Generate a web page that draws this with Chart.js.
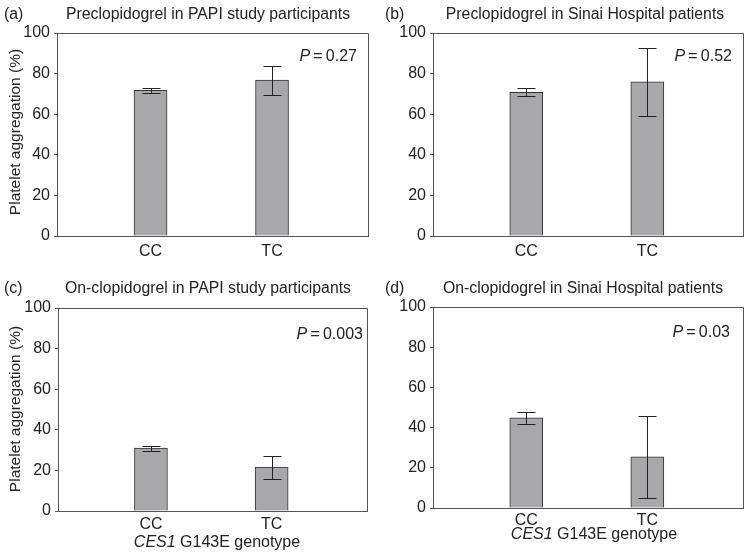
<!DOCTYPE html>
<html>
<head>
<meta charset="utf-8">
<script src="https://cdn.jsdelivr.net/npm/chart.js@4/dist/chart.umd.min.js"></script>
<style>
  html, body { margin:0; padding:0; background:#fff; }
  #wrap { position:relative; width:749px; height:556px; }
  #wrap canvas { position:absolute; }
</style>
</head>
<body>
<div id="wrap">
  <canvas id="panelA" width="375" height="270" style="left:0;top:0"></canvas>
  <canvas id="panelB" width="374" height="270" style="left:375px;top:0"></canvas>
  <canvas id="panelC" width="375" height="286" style="left:0;top:270px"></canvas>
  <canvas id="panelD" width="374" height="286" style="left:375px;top:270px"></canvas>
</div>
<script>
// ─── data ───────────────────────────────────────────────────────────────────
const genotypes = ['CC', 'TC'];
const yTicks = [0, 20, 40, 60, 80, 100];

const panelLetters = ['(a)', '(b)', '(c)', '(d)'];
const panelTitles = [
  'Preclopidogrel in PAPI study participants',
  'Preclopidogrel in Sinai Hospital patients',
  'On-clopidogrel in PAPI study participants',
  'On-clopidogrel in Sinai Hospital patients'
];
const pValues = ['0.27', '0.52', '0.003', '0.03'];

const preclopPapiMean  = [71.7, 76.8];
const preclopPapiErr   = [1.1, 7.1];
const preclopSinaiMean = [70.8, 75.9];
const preclopSinaiErr  = [2.0, 16.8];
const onclopPapiMean   = [31.0, 21.6];
const onclopPapiErr    = [1.2, 5.6];
const onclopSinaiMean  = [44.8, 25.4];
const onclopSinaiErr   = [2.9, 20.3];

const yAxisTitle = 'Platelet aggregation (%)';
const xAxisTitleItalic = 'CES1';
const xAxisTitleRest = ' G143E genotype';

// ─── look ───────────────────────────────────────────────────────────────────
const FONT = '"Liberation Sans", Arial, Helvetica, sans-serif';
const TEXT = '#222';
const AXIS = '#555';
const BAR_FILL = '#a8a8ab';
const BAR_EDGE = '#333';

const panels = [
  { canvas:'panelA', w:375, h:270, area:{l:57, r:368, t:33, b:236}, means:preclopPapiMean, errs:preclopPapiErr,
    letterX:4, titleX:208, titleY:19, pRight:357, pY:61, tickPad:6, yTitle:{x:20, y:132}, xTitle:null },
  { canvas:'panelB', w:374, h:270, area:{l:58, r:368, t:33, b:236}, means:preclopSinaiMean, errs:preclopSinaiErr,
    letterX:10, titleX:210, titleY:19, pRight:357, pY:61, tickPad:6, yTitle:null, xTitle:null },
  { canvas:'panelC', w:375, h:286, area:{l:58, r:367, t:38, b:241}, means:onclopPapiMean, errs:onclopPapiErr,
    letterX:4, titleX:208, titleY:23, pRight:363, pY:69, tickPad:4, yTitle:{x:20, y:139}, xTitle:{x:217, y:277} },
  { canvas:'panelD', w:374, h:286, area:{l:58, r:368, t:37, b:238}, means:onclopSinaiMean, errs:onclopSinaiErr,
    letterX:10, titleX:208, titleY:23, pRight:355, pY:67, tickPad:3, yTitle:null, xTitle:{x:219, y:269} }
];

function decorPlugin(p, idx) {
  return {
    id: 'decor' + idx,
    afterDatasetsDraw(chart) {
      // error bars, drawn from the y scale
      const ctx = chart.ctx, y = chart.scales.y;
      const meta = chart.getDatasetMeta(0);
      ctx.save();
      ctx.strokeStyle = '#222';
      ctx.lineWidth = 1;
      meta.data.forEach((bar, i) => {
        const x = Math.round(bar.x) + 0.5;
        const hi = Math.round(y.getPixelForValue(p.means[i] + p.errs[i])) + 0.5;
        const lo = Math.round(y.getPixelForValue(p.means[i] - p.errs[i])) + 0.5;
        ctx.beginPath();
        ctx.moveTo(x, hi); ctx.lineTo(x, lo);
        ctx.moveTo(x - 9, hi); ctx.lineTo(x + 9, hi);
        ctx.moveTo(x - 9, lo); ctx.lineTo(x + 9, lo);
        ctx.stroke();
      });
      ctx.restore();
    },
    afterDraw(chart) {
      const ctx = chart.ctx, a = chart.chartArea;
      ctx.save();
      // top and right sides of the frame
      ctx.strokeStyle = AXIS;
      ctx.lineWidth = 1;
      ctx.beginPath();
      ctx.moveTo(Math.round(a.left) + 0.5, Math.round(a.top) + 0.5);
      ctx.lineTo(Math.round(a.right) + 0.5, Math.round(a.top) + 0.5);
      ctx.lineTo(Math.round(a.right) + 0.5, Math.round(a.bottom) + 0.5);
      ctx.stroke();

      ctx.fillStyle = TEXT;
      ctx.textBaseline = 'alphabetic';
      // panel letter + title
      ctx.font = '15.8px ' + FONT;
      ctx.textAlign = 'left';
      ctx.fillText(panelLetters[idx], p.letterX, p.titleY);
      ctx.textAlign = 'center';
      ctx.fillText(panelTitles[idx], p.titleX, p.titleY);

      // P value, italic P
      ctx.font = '16px ' + FONT;
      const rest = '\u2009=\u2009' + pValues[idx];
      const restW = ctx.measureText(rest).width;
      ctx.textAlign = 'right';
      ctx.fillText(rest, p.pRight, p.pY);
      ctx.font = 'italic 16px ' + FONT;
      ctx.fillText('P', p.pRight - restW, p.pY);

      // y axis title
      if (p.yTitle) {
        ctx.save();
        ctx.translate(p.yTitle.x, p.yTitle.y);
        ctx.rotate(-Math.PI / 2);
        ctx.font = '15.5px ' + FONT;
        ctx.textAlign = 'center';
        ctx.fillText(yAxisTitle, 0, 0);
        ctx.restore();
      }

      // x axis title, gene symbol italic
      if (p.xTitle) {
        ctx.font = 'italic 16px ' + FONT;
        const w1 = ctx.measureText(xAxisTitleItalic).width;
        ctx.font = '16px ' + FONT;
        const w2 = ctx.measureText(xAxisTitleRest).width;
        const x0 = p.xTitle.x - (w1 + w2) / 2;
        ctx.textAlign = 'left';
        ctx.font = 'italic 16px ' + FONT;
        ctx.fillText(xAxisTitleItalic, x0, p.xTitle.y);
        ctx.font = '16px ' + FONT;
        ctx.fillText(xAxisTitleRest, x0 + w1, p.xTitle.y);
      }
      ctx.restore();
    }
  };
}

panels.forEach((p, idx) => {
  new Chart(document.getElementById(p.canvas), {
    type: 'bar',
    data: {
      datasets: [{
        data: genotypes.map((g, i) => ({ x: i, y: p.means[i] })),
        backgroundColor: BAR_FILL, borderColor: BAR_EDGE, borderWidth: 1,
        barThickness: 33, borderSkipped: 'bottom'
      }]
    },
    options: {
      responsive: false, animation: false,
      layout: { padding: { top: p.area.t, right: p.w - p.area.r, left: 0, bottom: 0 } },
      plugins: { legend: { display: false }, tooltip: { enabled: false } },
      scales: {
        x: {
          type: 'linear', min: -0.77, max: 1.79, offset: false,
          afterBuildTicks: ax => { ax.ticks = genotypes.map((g, i) => ({ value: i })); },
          afterFit: s => { s.height = p.h - p.area.b; },
          grid: { display: false, drawTicks: false },
          border: { color: AXIS, width: 1 },
          ticks: { callback: v => genotypes[v], color: TEXT, padding: p.tickPad, maxRotation: 0,
                   font: { family: FONT, size: 16 } }
        },
        y: {
          min: 0, max: 100,
          afterBuildTicks: ax => { ax.ticks = yTicks.map(v => ({ value: v })); },
          afterFit: s => { s.width = p.area.l; },
          grid: { drawOnChartArea: false, drawTicks: true, tickLength: 3, color: AXIS },
          border: { color: AXIS, width: 1 },
          ticks: { color: TEXT, padding: 4, font: { family: FONT, size: 16 } }
        }
      }
    },
    plugins: [decorPlugin(p, idx)]
  });
});
</script>
</body>
</html>
